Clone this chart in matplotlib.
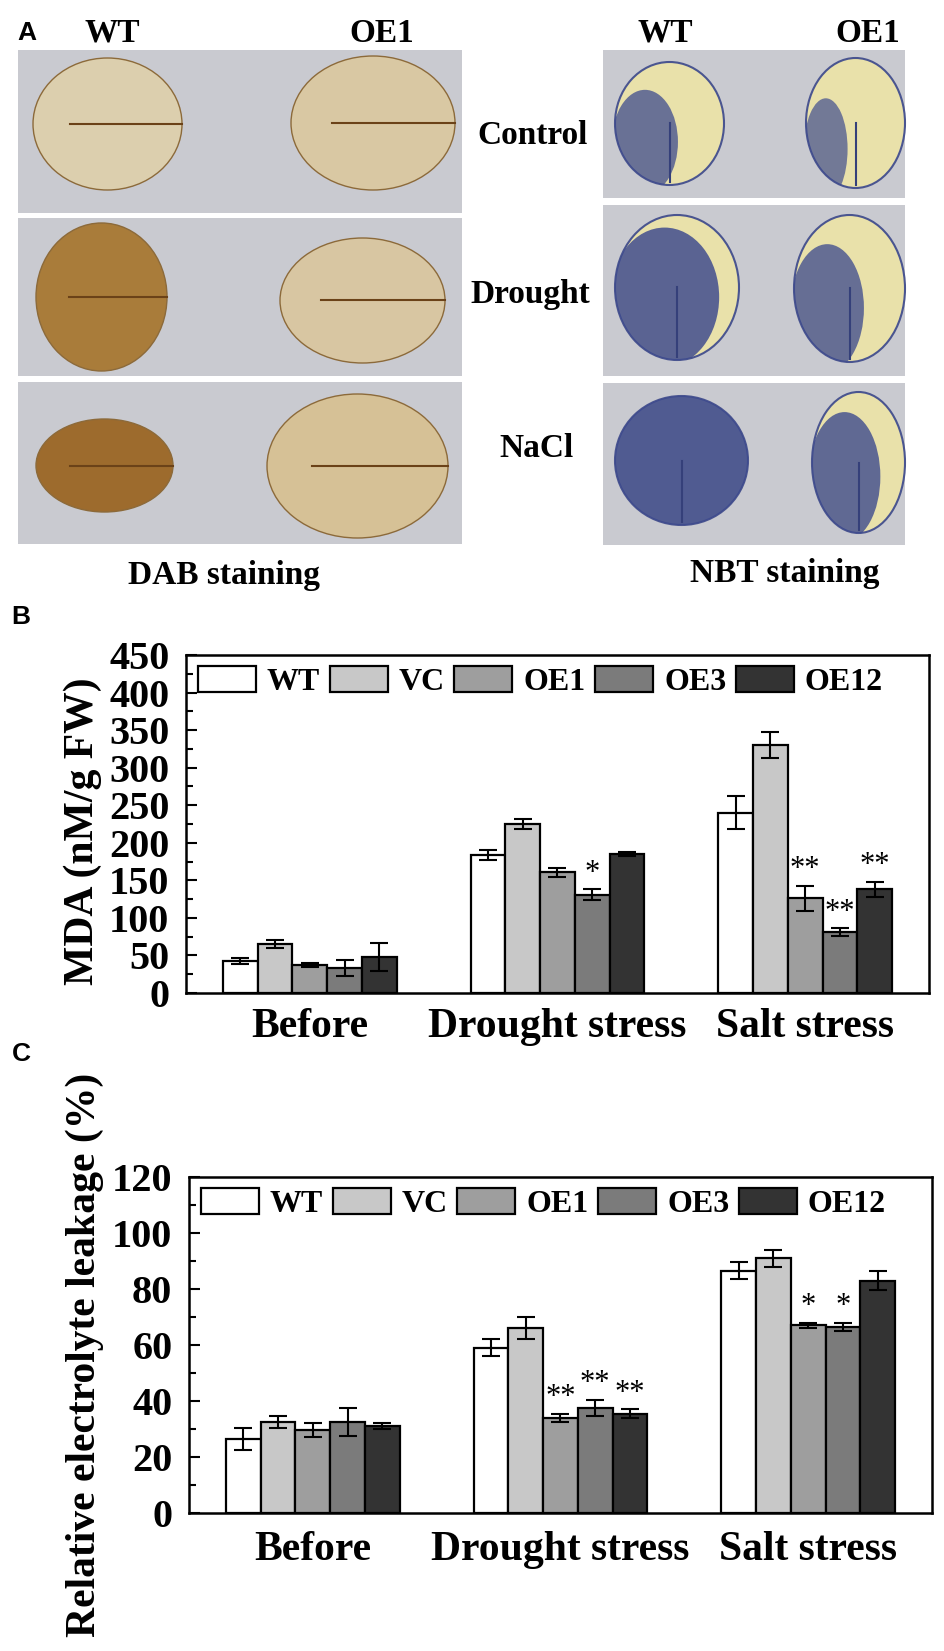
import numpy as np
import matplotlib
matplotlib.use('Agg')
from matplotlib import pyplot as plt
from matplotlib.patches import Rectangle, Ellipse

plt.rcParams['font.family'] = ['Liberation Serif', 'DejaVu Serif']
plt.rcParams['font.weight'] = 'bold'

# data
groups = ['Before', 'Drought stress', 'Salt stress']
lines = ['WT', 'VC', 'OE1', 'OE3', 'OE12']
colors = ['#ffffff', '#c8c8c8', '#9e9e9e', '#7b7b7b', '#333333']

mda = {
    'WT':   [43, 184, 240],
    'VC':   [65, 225, 330],
    'OE1':  [37, 161, 126],
    'OE3':  [33, 131, 81],
    'OE12': [48, 185, 138],
}
mda_err = {
    'WT':   [4, 7, 22],
    'VC':   [5, 7, 17],
    'OE1':  [3, 6, 17],
    'OE3':  [11, 7, 5],
    'OE12': [19, 3, 10],
}
mda_sig = {
    'OE1':  ['', '', '**'],
    'OE3':  ['', '*', '**'],
    'OE12': ['', '', '**'],
}

rel = {
    'WT':   [26.5, 59, 86.5],
    'VC':   [32.5, 66, 91],
    'OE1':  [29.5, 34, 67],
    'OE3':  [32.5, 37.5, 66.5],
    'OE12': [31, 35.5, 83],
}
rel_err = {
    'WT':   [4, 3, 3],
    'VC':   [2, 4, 3],
    'OE1':  [2.5, 1.5, 1],
    'OE3':  [5, 3, 1.5],
    'OE12': [1, 1.5, 3.5],
}
rel_sig = {
    'OE1':  ['', '**', '*'],
    'OE3':  ['', '**', '*'],
    'OE12': ['', '**', ''],
}

W, H = 945, 1651
fig = plt.figure(figsize=(W / 100, H / 100), dpi=100)

# ---------- panel A (photo sketch) ----------
axa = fig.add_axes([0, 1 - 600 / H, 1, 600 / H])
axa.set_xlim(0, W)
axa.set_ylim(600, 0)
axa.axis('off')

bg = '#c9cad0'
dab_boxes = [(18, 50, 462, 213), (18, 218, 462, 376), (18, 382, 462, 544)]
nbt_boxes = [(603, 50, 905, 198), (603, 205, 905, 376), (603, 383, 905, 545)]
for (x0, y0, x1, y1) in dab_boxes + nbt_boxes:
    axa.add_patch(Rectangle((x0, y0), x1 - x0, y1 - y0, color=bg, lw=0))

dab_leaves = [((33, 58, 182, 190), '#dccfae'), ((291, 56, 455, 190), '#d9c8a3'),
              ((36, 223, 167, 371), '#a97c3a'), ((280, 238, 445, 363), '#d8c6a2'),
              ((36, 419, 173, 512), '#9d6b2d'), ((267, 394, 448, 538), '#d6c196')]
for (x0, y0, x1, y1), c in dab_leaves:
    axa.add_patch(Ellipse(((x0 + x1) / 2, (y0 + y1) / 2), x1 - x0, y1 - y0,
                          facecolor=c, edgecolor='#8c6a3a', lw=1))
    axa.plot([(x0 + x1) / 2 - (x1 - x0) * 0.25, x1], [(y0 + y1) / 2] * 2,
             color='#6b4218', lw=1.5)

# leaf box, share of the leaf stained blue
nbt_leaves = [((615, 62, 724, 185), 0.55), ((806, 58, 905, 188), 0.4),
              ((615, 215, 739, 360), 0.8), ((794, 215, 905, 362), 0.6),
              ((615, 396, 748, 525), 0.97), ((812, 392, 905, 533), 0.7)]
for (x0, y0, x1, y1), f in nbt_leaves:
    cx, cy, w, h = (x0 + x1) / 2, (y0 + y1) / 2, x1 - x0, y1 - y0
    leaf = Ellipse((cx, cy), w, h, facecolor='#e9e1aa', edgecolor='#4a5590', lw=1.5)
    axa.add_patch(leaf)
    spot = Ellipse((cx - (1 - f) * w / 2, cy + (1 - f) * h / 3),
                   f * w * 1.1, h * (0.6 + 0.45 * f),
                   facecolor='#3d4a8e', alpha=0.55 + 0.35 * f, lw=0)
    axa.add_patch(spot)
    spot.set_clip_path(leaf)
    axa.plot([cx, cx], [cy, y1 - 3], color='#35407a', lw=1.5)

tk = dict(fontsize=24, fontweight='bold', ha='center', va='center')
axa.text(27, 33, 'A', fontsize=19, fontweight='bold', family='Liberation Sans',
         ha='center', va='center')
axa.text(112, 33, 'WT', **tk)
axa.text(382, 33, 'OE1', **tk)
axa.text(665, 33, 'WT', **tk)
axa.text(868, 33, 'OE1', **tk)
axa.text(533, 135, 'Control', **tk)
axa.text(530, 294, 'Drought', **tk)
axa.text(536, 448, 'NaCl', **tk)
axa.text(224, 575, 'DAB staining', **tk)
axa.text(785, 573, 'NBT staining', **tk)

fig.text(21 / W, 1 - 617 / H, 'B', fontsize=19, fontweight='bold',
         family='Liberation Sans', ha='center', va='center')
fig.text(21 / W, 1 - 1054 / H, 'C', fontsize=19, fontweight='bold',
         family='Liberation Sans', ha='center', va='center')


def bar_panel(ax, vals, errs, sigs, ymax, major, ylabel, lab_x, lab_y, xpad):
    x = np.arange(len(groups))
    bw = 0.14
    for i, ln in enumerate(lines):
        pos = x + (i - 2) * bw
        ax.bar(pos, vals[ln], bw, color=colors[i], edgecolor='black', lw=1.6,
               yerr=errs[ln], capsize=6.5,
               error_kw=dict(elinewidth=1.5, capthick=1.5, ecolor='black'))
        if ln in sigs:
            for p, v, e, s in zip(pos, vals[ln], errs[ln], sigs[ln]):
                if s:
                    ax.text(p, v + e + ymax * 0.004, s, ha='center', va='bottom',
                            fontsize=22, fontweight='normal')
    ax.set_xlim(-0.5, 2.5)
    ax.set_ylim(0, ymax)
    ax.set_yticks(np.arange(0, ymax + 1, major))
    ax.set_yticks(np.arange(major / 2, ymax, major), minor=True)
    ax.set_xticks(x)
    ax.set_xticklabels(groups, fontsize=30, fontweight='bold')
    ax.tick_params(axis='x', length=0, pad=xpad)
    ax.tick_params(axis='y', which='major', direction='in', length=8, width=1.5,
                   labelsize=29, pad=12)
    ax.tick_params(axis='y', which='minor', direction='in', length=5, width=1.5)
    for lbl in ax.get_yticklabels():
        lbl.set_fontweight('bold')
    for sp in ax.spines.values():
        sp.set_linewidth(1.8)
    ax.set_ylabel(ylabel, fontsize=30, fontweight='bold')
    ax.yaxis.set_label_coords(lab_x, lab_y)
    ax.yaxis.label.set_verticalalignment('center')
    leg = ax.legend(lines, loc='upper left', bbox_to_anchor=(0.016, 0.968),
                    ncol=5, frameon=False, borderpad=0, borderaxespad=0,
                    handlelength=1.81, handleheight=0.875, handletextpad=0.35,
                    columnspacing=0.3, prop=dict(size=23, weight='bold'))
    for h in leg.legend_handles:
        h.set_linewidth(1.6)


axb = fig.add_axes([186 / W, 1 - 993 / H, 743 / W, 338 / H])
bar_panel(axb, mda, mda_err, mda_sig, 450, 50, 'MDA (nM/g FW)', -0.139, 0.479, 11)

axc = fig.add_axes([189 / W, 1 - 1513 / H, 743 / W, 336 / H])
bar_panel(axc, rel, rel_err, rel_sig, 120, 20, 'Relative electrolyte leakage (%)',
          -0.14, 0.47, 13)

fig.savefig('out.png', dpi=100)
